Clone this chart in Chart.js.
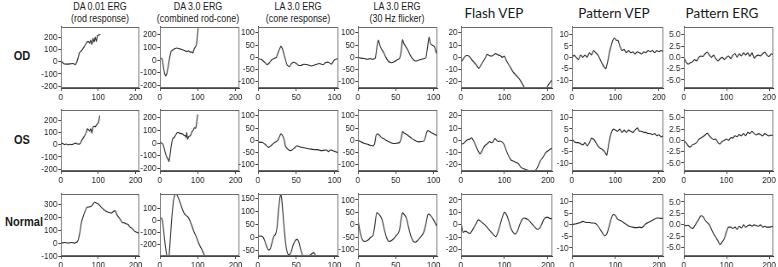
<!DOCTYPE html>
<html><head><meta charset="utf-8">
<script src="https://cdn.jsdelivr.net/npm/chart.js@4.4.1/dist/chart.umd.min.js"></script>
<style>
body{margin:0;background:#fff;width:778px;height:267px;position:relative;overflow:hidden;font-family:'Liberation Sans',Arial,sans-serif;color:#1a1a1a}
.t{position:absolute;white-space:nowrap;transform:translateX(-50%) scaleX(0.85);line-height:12px;font-size:10.5px;text-align:center}
.v{position:absolute;white-space:nowrap;transform:translateX(-50%);font-family:Lato,'Open Sans',sans-serif;font-size:13.5px;line-height:16px}
.r{position:absolute;white-space:nowrap;transform:translate(-50%,-50%) scaleX(0.85);font-weight:bold;font-size:13px}
.p{position:absolute}
</style></head><body>
<div class="t" style="left:100px;top:0px">DA 0.01 ERG<br>(rod response)</div>
<div class="t" style="left:198px;top:0px">DA 3.0 ERG<br>(combined rod-cone)</div>
<div class="t" style="left:298px;top:0px">LA 3.0 ERG<br>(cone response)</div>
<div class="t" style="left:397px;top:0px">LA 3.0 ERG<br>(30 Hz flicker)</div>
<div class="v" style="left:494px;top:5px">Flash VEP</div>
<div class="v" style="left:614px;top:5px">Pattern VEP</div>
<div class="v" style="left:722px;top:5px">Pattern ERG</div>
<div class="r" style="left:22px;top:55px">OD</div>
<div class="r" style="left:22px;top:139px">OS</div>
<div class="r" style="left:24px;top:221px">Normal</div>
<script>
// ---------- tick labels ----------
const ticksX200 = [0, 100, 200];
const ticksX100 = [0, 50, 100];
const ticksRod = [-200, -100, 0, 100, 200];
const ticksRodNormal = [-100, 0, 100, 200, 300];
const ticksMixNormal = [-200, -100, 0, 100];
const ticksCone = [-100, -50, 0, 50, 100];
const ticksConeNormal = [-50, 0, 50, 100, 150];
const ticksFVEP = [-20, -10, 0, 10, 20];
const ticksPVEP = [-10, -5, 0, 5, 10];
const ticksPERG = [-5, -2.5, 0, 2.5, 5];

// common time base (ms)
const t5 = [0,5,10,15,20,25,30,35,40,45,50,55,60,65,70,75,80,85,90,95,100,105,110,115,120,125,130,135,140,145,150,155,160,165,170,175,180,185,190,195,200,205,210];

// ---------- OD ----------
const odRodX = [0,4,8,15,25,33,38,42,46,50,54,58,62,66,70,74,77,80,83,86,89,92,95,98,100,103,106];
const odRodY = [5,-5,-18,-20,-18,-15,-25,-10,30,75,85,100,120,140,160,165,150,175,140,190,160,200,165,215,215,220,222];
const odMixX = [0,3,6,9,12,15,18,22,26,30,35,40,45,50,55,60,64,68,72,76,80,83,87,91,95,97,99,101];
const odMixY = [18,15,5,-50,-100,-125,-110,-50,20,70,80,90,95,90,85,80,75,70,65,72,60,65,55,90,108,130,190,250];
const odConeX = [0,4,8,12,15,18,21,24,27,30,32,35,38,41,44,47,50,53,56,60,65,70,75,80,85,88,92,96,100,105];
const odConeY = [-5,-8,-18,-30,-22,-10,-5,0,25,45,35,0,-30,-38,-25,-20,-25,-32,-33,-28,-30,-35,-30,-25,-30,-22,-20,-28,-10,-5];
const odFlickX = [0,4,8,12,16,20,23,25,27,29,31,34,37,40,44,48,52,55,57,59,61,63,66,69,72,76,80,84,88,90,92,94,96,98,101,103,105];
const odFlickY = [0,-3,-5,-8,-5,-8,-3,40,70,50,35,20,0,-15,-22,-18,-10,-5,20,72,55,45,30,10,-5,-15,-12,-8,-5,0,40,82,55,50,45,25,10];
const odFvepX = [0,6,10,15,20,25,30,35,41,45,50,55,60,65,70,75,80,85,90,95,100,105,110,115,120,125,130,135,140,145,150,160,175,190,200,210];
const odFvepY = [-4,-1,1,1.5,0.5,-2,-4,-6,-9,-7,-4,-1,2.5,1.5,1,2,3,2,1.5,0,1,-3,-6,-9,-12,-14,-16,-18,-21,-24,-28,-35,-40,-30,-23,-18];
const odPvepX = [0,5,10,15,20,25,30,35,40,45,50,55,60,65,70,75,78,82,86,90,94,98,102,106,110,115,120,125,130,135,140,145,150,155,160,165,170,175,180,185,190,195,200,205,210];
const odPvepY = [0,1,0,-1,1,0,1,0,2,1,3,2,1,-1,-3,-4.5,-5,-2,2,5,7.5,8.5,7.5,7.5,5,3,3.5,2,3,2,2.5,1.5,2.5,2,1.5,2.5,2,3,2.5,3,2,3,2.5,3,2.5];
const odPergY = [0,-1,-1.5,-1.2,-1,-0.5,-0.8,0,0.3,0.2,0.8,1.2,0.5,0,0.5,-0.3,-0.8,-0.3,0,-0.5,0,0.3,-0.3,0.5,0.8,0,0.8,0.3,1,0.5,1,0.2,1,-0.2,0.3,0.5,0.3,0.8,1.2,0.5,0.2,0.8,0.5];

// ---------- OS ----------
const osRodX = [0,5,10,15,20,25,30,35,40,45,50,53,56,60,64,68,71,74,77,80,83,86,89,92,95,98,101,104];
const osRodY = [13,10,0,5,-2,3,0,8,12,5,5,15,35,55,75,100,130,120,110,130,95,140,150,145,160,170,185,237];
const osMixX = [0,4,8,12,16,19,22,24,27,30,34,38,42,46,50,55,60,64,67,69,71,73,76,79,82,85,88,91,94,96,98,100];
const osMixY = [8,0,-10,-50,-95,-115,-130,-145,-90,-20,35,45,65,82,80,75,70,60,57,45,82,30,50,55,65,90,100,120,115,132,180,225];
const osConeX = [0,6,10,14,17,20,23,26,28,30,32,34,36,39,42,45,48,51,55,60,64,68,73,78,83,87,90,92,94,96,98,100,103,105];
const osConeY = [-7,-9,-18,-29,-22,-13,-7,0,15,27,20,5,-24,-36,-42,-38,-30,-22,-27,-30,-33,-35,-38,-38,-42,-40,-40,-46,-40,-40,-42,-45,-48,-52];
const osFlickX = [0,4,8,12,16,20,22,24,26,28,31,35,39,43,47,51,55,57,59,61,64,67,71,75,79,83,87,89,91,93,95,98,101,105];
const osFlickY = [0,-6,-12,-15,-20,-23,-15,20,27,22,12,5,-3,-9,-13,-12,-9,5,36,30,25,18,8,0,-6,-5,-3,10,33,40,35,30,25,18];
const osFvepX = [0,6,10,14,20,25,30,35,40,44,48,52,56,60,66,70,74,78,82,86,90,95,100,105,110,115,121,127,132,138,143,150,158,165,170,176,182,188,195,202,210];
const osFvepY = [-3,-2.5,-1,0.3,1,2,-1,-5,-9,-11,-9,-6,-4,-3,-1,-2,-1,1.5,0,-1,-0.5,-1.5,-4,-9,-13,-16,-17,-18,-19,-22,-23,-24,-25,-26,-25,-22,-17,-14,-10,-8,-6];
const osPvepY = [0.5,-0.5,-1,-1,-1.5,-2,-1,-2.5,-1,1,0.5,-1,-2.5,-3.5,-4,-5,-6.5,-1,3,5,4.5,4,5,3.5,4.5,3.5,4.5,4,3.5,4.5,5.5,4,4,3.5,3.5,3,3,2.5,3,2,2.5,1.5,2];
const osPergY = [0,-0.5,-1.2,-1.5,-1,-0.8,-0.5,0.2,0.5,0.8,1.2,1.6,1,0.5,0.2,0.3,-0.5,-0.8,-0.2,0,0.3,0,0.6,0.5,1,0.8,1.3,1,1.5,1,1.8,1.5,2,1.5,1.2,1.5,1.3,1,1.5,1.2,1,1.2,1];

// ---------- Normal ----------
const nRodX = [0,10,20,30,35,40,45,50,55,60,65,70,75,80,85,90,95,100,105,110,115,120,125,130,135,140,145,150,155,160,165,170,175,180,185,190,195,200,210];
const nRodY = [0,5,0,5,0,5,15,70,160,210,250,280,282,285,300,318,312,305,290,275,262,250,242,238,235,245,253,220,200,180,160,158,150,145,125,115,100,88,75];
const nMixX = [0,3,6,9,12,15,18,21,24,27,30,33,36,39,42,45,50,55,60,65,70,75,80,85,90,95,100,105,110,115,120];
const nMixY = [15,20,5,-60,-150,-230,-290,-320,-300,-180,-40,80,170,210,222,215,180,135,90,55,40,25,-10,-50,-95,-130,-170,-210,-240,-275,-310];
const nConeX = [0,3,6,9,12,14,16,18,21,23,25,27,29,30,31,33,35,37,40,43,46,49,51,53,56,59,62,65,68,71,73,75,78,80];
const nConeY = [3,5,3,-15,-40,-50,-45,-25,5,12,40,110,160,165,150,80,10,-40,-68,-60,-30,-12,-8,-15,-50,-75,-85,-80,-70,-62,-60,-68,-85,-95];
const nFlickX = [0,3,6,9,13,17,20,22,25,27,29,32,35,38,41,45,50,55,57,59,61,64,67,70,73,76,79,83,87,90,93,96,100,105];
const nFlickY = [20,-30,-60,-67,-62,-50,-42,-10,48,45,38,20,-20,-52,-67,-62,-45,-20,20,48,42,28,-10,-45,-65,-70,-62,-48,-30,5,43,38,20,-10];
const nFvepY = [2,-6,-5,-6,-7,-5,-2,1,4,3,1.5,0,-2,-4,-6,-8,-9.5,-6,0,6,10,8,3,-3,-6,-7.5,-5,0,4,5.5,5,4,2,0,-2,-3.5,-3,0,4,6,6,5,5];
const nPvepY = [0,0.3,0.5,0.8,1,1.5,1.2,1,1,0.8,0.8,0.5,-0.5,-2,-3.5,-4.8,-4,-1,2.5,4.5,4,2.5,2,1.5,0.8,0.2,-0.5,-0.8,-1,-1.2,-1.2,-1,-1.2,-0.5,0.5,1,1.5,2,2.5,3,3,2.8,2.8];
const nPergY = [0,-0.2,-0.1,-0.5,-0.8,-0.3,0.5,1.2,2,1.8,1,0.5,0,-1,-2,-2.7,-3.5,-4.3,-3.7,-3,-1.5,-0.5,-0.5,-0.8,-0.5,-1,-0.3,-0.7,0,-0.5,-0.2,0,-0.3,0,-0.2,-0.3,0,-0.5,-0.3,-0.5,-0.5,-0.4,-0.3];

// ---------- layout ----------
const COLS = [[61,139],[160,239],[258,338],[358,437],[461,552],[572,663],[684,773]];
const ROWS = [[26,88],[109,171],[193,256]];
const SX = 0.85;               // horizontal condensing of each panel canvas
const YW = 30, XH = 16, PT = 6, PR = 8;

const X200 = {min:0, max:210, ticks:ticksX200};
const X100 = {min:0, max:105, ticks:ticksX100};
const yRod = {min:-215, max:285, ticks:ticksRod};
const yMix = {min:-220, max:262, ticks:ticksRod};
const yCone = {min:-125, max:125, ticks:ticksCone};
const yF = {min:-25, max:25, ticks:ticksFVEP};
const yP = {min:-13.5, max:13.5, ticks:ticksPVEP};
const yE = {min:-6.8, max:6.8, ticks:ticksPERG, dec:1};

const panels = [
 [0,0,odRodX,odRodY,X200,yRod],[0,1,odMixX,odMixY,X200,yMix],[0,2,odConeX,odConeY,X100,yCone],[0,3,odFlickX,odFlickY,X100,yCone],
 [0,4,odFvepX,odFvepY,X200,yF],[0,5,odPvepX,odPvepY,X200,yP],[0,6,t5,odPergY,X200,yE],
 [1,0,osRodX,osRodY,X200,yRod],[1,1,osMixX,osMixY,X200,yMix],[1,2,osConeX,osConeY,X100,yCone],[1,3,osFlickX,osFlickY,X100,yCone],
 [1,4,osFvepX,osFvepY,X200,yF],[1,5,t5,osPvepY,X200,yP],[1,6,t5,osPergY,X200,yE],
 [2,0,nRodX,nRodY,X200,{min:-100,max:385,ticks:ticksRodNormal}],[2,1,nMixX,nMixY,X200,{min:-300,max:225,ticks:ticksMixNormal}],
 [2,2,nConeX,nConeY,X100,{min:-73,max:170,ticks:ticksConeNormal}],[2,3,nFlickX,nFlickY,X100,yCone],
 [2,4,t5,nFvepY,X200,yF],[2,5,t5,nPvepY,X200,yP],[2,6,t5,nPergY,X200,yE]
];

const frame = {id:'frame', afterDraw(c){const a=c.chartArea,x=c.ctx;x.save();x.strokeStyle='#6a6a6a';x.lineWidth=1;
 x.strokeRect(Math.round(a.left)+0.5,Math.round(a.top)+0.5,Math.round(a.right-a.left)-1,Math.round(a.bottom-a.top)-1);x.restore();}};

const tickFont = {family:"'Liberation Sans',Arial,sans-serif", size:9.5};

panels.forEach(([r,c,xs,ys,xc,yc])=>{
  const [bl,br] = COLS[c], [bt,bb] = ROWS[r];
  const ywC = Math.round(YW/SX), prC = Math.round(PR/SX), bwC = Math.round((br-bl)/SX);
  const wC = ywC + bwC + prC, h = (bb-bt)+PT+XH;
  const d = document.createElement('div'); d.className='p';
  d.style.left=(bl-ywC*SX)+'px'; d.style.top=(bt-PT)+'px'; d.style.width=(wC*SX)+'px'; d.style.height=h+'px';
  const cv = document.createElement('canvas'); cv.width=wC; cv.height=h; cv.style.width=(wC*SX)+'px'; cv.style.height=h+'px';
  d.appendChild(cv); document.body.appendChild(d);
  const axis = (cfg, isX) => ({
    type:'linear', min:cfg.min, max:cfg.max,
    afterBuildTicks: s => { s.ticks = cfg.ticks.map(v=>({value:v})); },
    afterFit: s => { if(isX) s.height = XH; else s.width = ywC; },
    grid:{drawOnChartArea:false, drawTicks:true, tickLength:3, color:'#444'},
    border:{color:'#444', width:1},
    ticks:{font:tickFont, color:'#222', padding:1, maxRotation:0, autoSkip:false,
      callback: v => cfg.dec ? Number(v).toFixed(cfg.dec) : String(v)}
  });
  new Chart(cv, {
    type:'line',
    data:{datasets:[{data: xs.map((x,i)=>({x, y:ys[i]})), borderColor:'#2a2a2a', borderWidth:1.1, pointRadius:0,
      tension: r===2 ? 0.4 : 0.15, cubicInterpolationMode: r===2 ? 'monotone' : 'default', fill:false}]},
    options:{responsive:false, animation:false, devicePixelRatio:1,
      layout:{padding:{top:PT, right:prC, left:0, bottom:0}},
      plugins:{legend:{display:false}, tooltip:{enabled:false}},
      scales:{x:axis(xc,true), y:axis(yc,false)}},
    plugins:[frame]
  });
});
</script>
</body></html>
